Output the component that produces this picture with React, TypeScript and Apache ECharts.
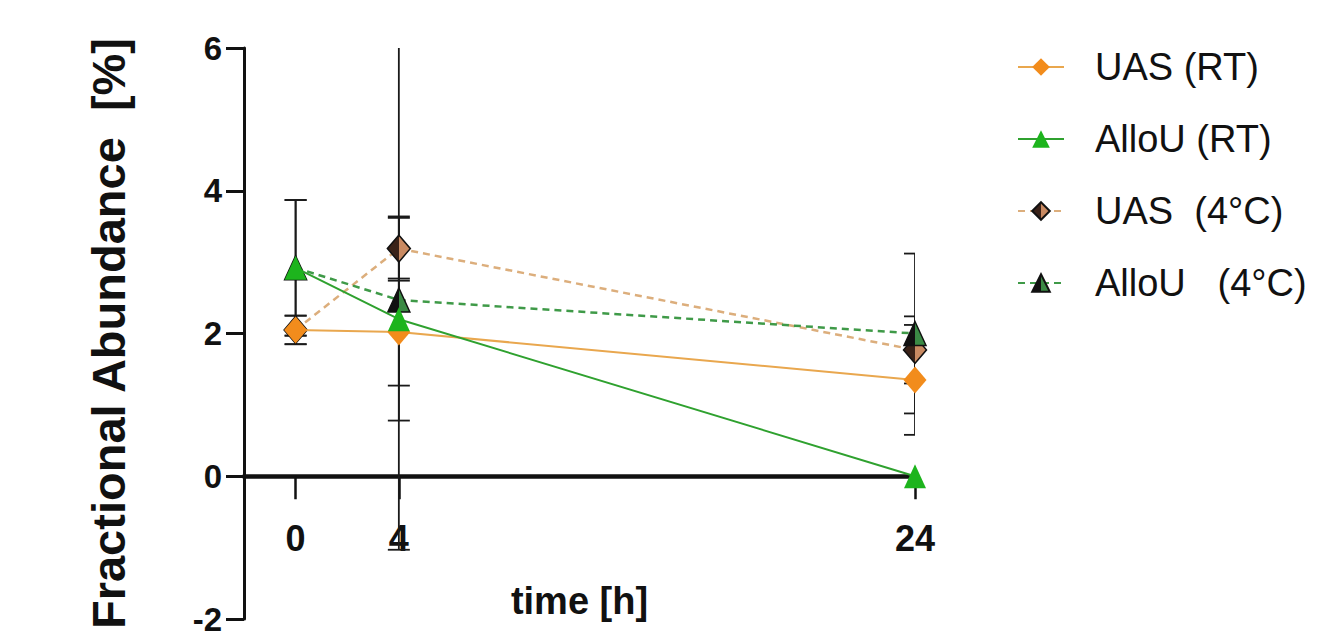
import React, { useEffect, useRef } from "react";
import * as echarts from "echarts";

const times = [0, 4, 24];
const xTickValues = [0, 4, 24];

const uasRT = [2.05, 2.02, 1.35];
const uasRTErrUp = [0.2, 0.75, 0.77];
const uasRTErrDown = [0.2, 0.75, 0.77];

const alloRT = [2.92, 2.2, 0];
const alloRTErrUp = [0.95, 1.42, 0];
const alloRTErrDown = [0.95, 1.42, 0];

const uas4C = [2.05, 3.19, 1.77];
const uas4CErrUp = [0.2, 0.45, 0.47];
const uas4CErrDown = [0.2, 0.45, 0.47];

const allo4C = [2.92, 2.47, 2.0];
const allo4CErrUp = [0.95, 3.7, 1.12];
const allo4CErrDown = [0.95, 3.5, 1.12];

const seriesNames = ["UAS (RT)", "AlloU (RT)", "UAS  (4°C)", "AlloU   (4°C)"];

const SANS = "'Liberation Sans', Arial, sans-serif";

function errRows(vals: number[], up: number[], down: number[]) {
  return times.map((t, i) => [t, vals[i] - down[i], vals[i] + up[i]]);
}

function errorSeries(name: string, rows: number[][], z: number) {
  return {
    name: name + " err",
    type: "custom",
    clip: true,
    z,
    silent: true,
    encode: { x: 0, y: [1, 2] },
    data: rows,
    renderItem: (params: any, api: any) => {
      const x = api.value(0);
      const lo = api.value(1);
      const hi = api.value(2);
      if (hi - lo < 1e-6) return null;
      const a = api.coord([x, hi]);
      const b = api.coord([x, lo]);
      const hw = 11;
      const st = { stroke: "#1a1a1a", lineWidth: 1.8 };
      return {
        type: "group",
        children: [
          { type: "line", shape: { x1: a[0], y1: a[1], x2: b[0], y2: b[1] }, style: st },
          { type: "line", shape: { x1: a[0] - hw, y1: a[1], x2: a[0] + hw, y2: a[1] }, style: st },
          { type: "line", shape: { x1: b[0] - hw, y1: b[1], x2: b[0] + hw, y2: b[1] }, style: st },
        ],
      };
    },
  };
}

function halfFill(dark: string, light: string) {
  return {
    type: "linear",
    x: 0,
    y: 0,
    x2: 1,
    y2: 0,
    colorStops: [
      { offset: 0, color: dark },
      { offset: 0.5, color: dark },
      { offset: 0.5, color: light },
      { offset: 1, color: light },
    ],
  };
}

export default function App() {
  const ref = useRef<HTMLDivElement>(null);
  useEffect(() => {
    document.body.style.margin = "0";
    const chart = echarts.init(ref.current!, undefined, { renderer: "svg" });
    const pts = (vals: number[]) => times.map((t, i) => [t, vals[i]]);
    const gridTop = 48;
    const gridBottom = 18;
    const yMin = -2;
    const yMax = 6;
    const plotH = 637 - gridTop - gridBottom;
    // move the x axis (line, ticks, labels) up to y = 0
    const zeroOffset = -plotH * (0 - yMin) / (yMax - yMin);
    chart.setOption({
      animation: false,
      backgroundColor: "#ffffff",
      grid: { left: 244, right: 419, top: gridTop, bottom: gridBottom, containLabel: false, outerBoundsMode: "none" },
      legend: {
        orient: "vertical",
        left: 1012,
        top: 43,
        itemWidth: 46,
        itemHeight: 22,
        itemGap: 34,
        data: seriesNames,
        textStyle: { fontSize: 38, fontFamily: SANS, color: "#111", padding: [0, 0, 0, 26] },
      },
      xAxis: {
        type: "value",
        min: -2,
        max: 24,
        offset: zeroOffset,
        name: "time [h]",
        nameLocation: "middle",
        nameGap: 106,
        nameTextStyle: { fontSize: 38, fontWeight: "bold", fontFamily: SANS, color: "#111" },
        axisLine: { onZero: false, lineStyle: { color: "#111", width: 4.5 } },
        axisTick: { customValues: xTickValues, length: 23, lineStyle: { color: "#111", width: 2.5 } },
        axisLabel: { customValues: xTickValues, fontSize: 36, fontWeight: "bold", fontFamily: SANS, color: "#111", margin: 44 },
        splitLine: { show: false },
      },
      yAxis: {
        type: "value",
        min: yMin,
        max: yMax,
        interval: 2,
        name: "Fractional Abundance  [%]",
        nameLocation: "middle",
        nameRotate: 90,
        nameGap: 112,
        nameTextStyle: { fontSize: 47, fontWeight: "bold", fontFamily: SANS, color: "#111" },
        axisLine: { show: true, onZero: false, lineStyle: { color: "#111", width: 3 } },
        axisTick: { show: true, length: 18, lineStyle: { color: "#111", width: 3 } },
        axisLabel: { fontSize: 33, fontWeight: "bold", fontFamily: SANS, color: "#111", margin: 22 },
        splitLine: { show: false },
      },
      series: [
        errorSeries(seriesNames[2], errRows(uas4C, uas4CErrUp, uas4CErrDown), 1),
        errorSeries(seriesNames[3], errRows(allo4C, allo4CErrUp, allo4CErrDown), 1),
        errorSeries(seriesNames[0], errRows(uasRT, uasRTErrUp, uasRTErrDown), 1),
        errorSeries(seriesNames[1], errRows(alloRT, alloRTErrUp, alloRTErrDown), 1),
        {
          name: seriesNames[2],
          type: "line",
          data: pts(uas4C),
          z: 3,
          symbol: "diamond",
          symbolSize: [23, 27],
          itemStyle: { color: halfFill("#3a2218", "#c98a62"), borderColor: "#111", borderWidth: 1.5 },
          lineStyle: { color: "#dcae7c", width: 2.5, type: [7, 5] },
        },
        {
          name: seriesNames[3],
          type: "line",
          data: pts(allo4C),
          z: 3,
          symbol: "triangle",
          symbolSize: [22, 24],
          itemStyle: { color: halfFill("#111111", "#3b8a45"), borderColor: "#111", borderWidth: 1.5 },
          lineStyle: { color: "#3f9a48", width: 2.5, type: [7, 5] },
        },
        {
          name: seriesNames[0],
          type: "line",
          data: pts(uasRT),
          z: 4,
          symbol: "diamond",
          symbolSize: [23, 27],
          itemStyle: { color: "#f28c1c" },
          lineStyle: { color: "#e9a74e", width: 2 },
        },
        {
          name: seriesNames[1],
          type: "line",
          data: pts(alloRT),
          z: 4,
          symbol: "triangle",
          symbolSize: [22, 24],
          itemStyle: { color: "#1db41d" },
          lineStyle: { color: "#2fa12f", width: 2 },
        },
      ],
    });
    return () => chart.dispose();
  }, []);
  return <div ref={ref} style={{ width: 1334, height: 637 }} />;
}
